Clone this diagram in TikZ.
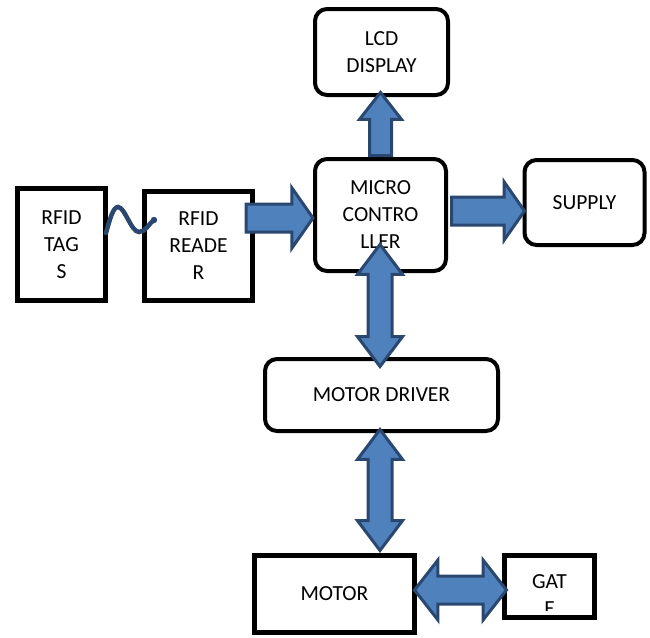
\documentclass[tikz,border=0pt]{standalone}
\usepackage{fontspec}
\setmainfont{Carlito}
\usetikzlibrary{shapes.arrows,calc}

\definecolor{arrowfill}{HTML}{4F81BD}
\definecolor{arrowline}{HTML}{2A4770}

\begin{document}
\begin{tikzpicture}[
  x=1pt, y=-1pt,
  sharpbox/.style={rectangle, draw, line width=5pt, align=center, font=\fontsize{21.5}{27}\selectfont},
  roundbox/.style={rectangle, draw, rounded corners=12pt, line width=4pt, align=center, font=\fontsize{21.5}{27}\selectfont},
  flow/.style={single arrow, draw=arrowline, fill=arrowfill, line width=3pt, inner xsep=0pt, single arrow head indent=0pt},
  twoway/.style={double arrow, draw=arrowline, fill=arrowfill, line width=3pt, inner xsep=0pt, double arrow head indent=0pt},
  wave/.style={draw=arrowline, line width=4.5pt, line cap=round}
]
\useasboundingbox (0,0) rectangle (650,637);

% Blocks
\node[sharpbox, minimum width=88, minimum height=112] (tags) at (61.5,244.5) {RFID\\TAG\\S};
\node[sharpbox, minimum width=108, minimum height=109] (reader) at (198.5,246) {RFID\\READE\\R};
\node[roundbox, minimum width=133, minimum height=86] (lcd) at (381.5,52) {LCD\\DISPLAY};
\node[roundbox, minimum width=131, minimum height=112] (micro) at (380.5,215) {MICRO\\CONTRO\\LLER};
\node[roundbox, minimum width=120, minimum height=85] (supply) at (584.5,202.5) {\raisebox{-2pt}{SUPPLY}};
\node[roundbox, minimum width=233, minimum height=72] (driver) at (381.5,395) {MOTOR DRIVER};
\node[sharpbox, minimum width=160, minimum height=77] (motor) at (334.5,594) {MOTOR};
\node[sharpbox, minimum width=90, minimum height=62] (gate) at (549.5,586.5) {};

% Gate label runs past the box
\begin{scope}
\clip (gate.north west) rectangle ($(gate.south east)+(0,-10)$);
\node[align=center, font=\fontsize{21.5}{27}\selectfont] (gatetext) at ($(gate.center)+(0,9)$) {GAT\\E};
\end{scope}

% Tag to reader link
\coordinate (tagout) at (106,233);
\coordinate (readerin) at (154,220);
\draw[wave] (tagout) .. controls (110,219) and (113,207) .. (118,207)
  .. controls (125,207) and (131,232) .. (139,232)
  .. controls (146,232) and (149,223) .. (readerin);
\fill[arrowline] (readerin) circle (3.2);

% Data flow arrows
\node[flow, anchor=tail, minimum height=67, minimum width=57, inner ysep=12.5,
  single arrow head extend=16, single arrow tip angle=110] (tomicro) at (244.5,218) {};
\node[flow, rotate=90, anchor=tail, minimum height=63, minimum width=39, inner ysep=9.5,
  single arrow head extend=10, single arrow tip angle=76] (tolcd) at (micro.north) {};
\node[flow, anchor=tail, minimum height=73, minimum width=55, inner ysep=12.5,
  single arrow head extend=15, single arrow tip angle=110] (tosupply) at ($(micro.east)+(2,-4)$) {};

% Two-way links
\node[twoway, rotate=90, minimum height=122, minimum width=42, inner ysep=10.5,
  double arrow head extend=10.5, double arrow tip angle=74] (microdriver) at (380,305.5) {};
\node[twoway, rotate=90, minimum height=121, minimum width=42, inner ysep=10.5,
  double arrow head extend=10.5, double arrow tip angle=74] (drivermotor) at (380,490) {};
\node[twoway, minimum height=92, minimum width=57, inner ysep=12.5,
  double arrow head extend=16, double arrow tip angle=104] (motorgate) at (460.5,590) {};
\end{tikzpicture}
\end{document}
